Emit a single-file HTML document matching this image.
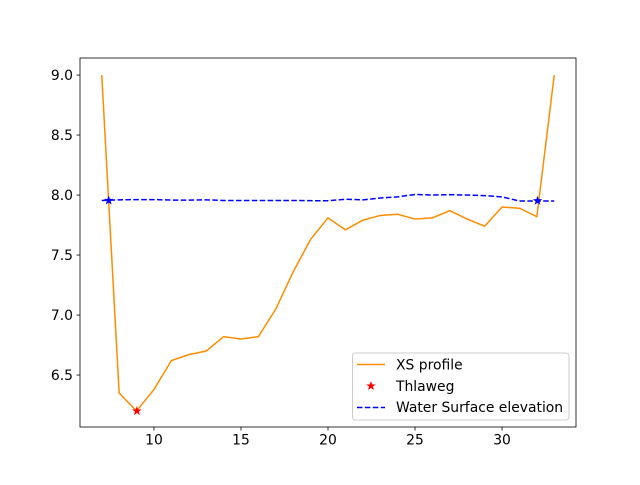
<!DOCTYPE html>
<html><head><meta charset="utf-8"><style>
body{margin:0;background:#fff;}
svg text{font-family:"DejaVu Sans","Liberation Sans",sans-serif;font-size:13.9px;fill:#000;}
</style></head><body>
<svg id="chart" width="640" height="480">
<rect x="0" y="0" width="640" height="480" fill="#fff"/>
<g id="plot"></g>
</svg>
<script>
const xsStations=[7,8,9,10,11,12,13,14,15,16,17,18,19,20,21,22,23,24,25,26,27,28,29,30,31,32,33];
const xsElev=[9.0,6.35,6.2,6.38,6.62,6.67,6.7,6.82,6.8,6.82,7.05,7.36,7.63,7.81,7.71,7.79,7.83,7.84,7.80,7.81,7.87,7.80,7.74,7.90,7.89,7.82,9.0];
const wsStations=[7,8,9,10,11,12,13,14,15,16,17,18,19,20,21,22,23,24,25,26,27,28,29,30,31,32,33];
const wsElev=[7.955,7.96,7.962,7.962,7.958,7.958,7.96,7.955,7.955,7.955,7.955,7.955,7.953,7.952,7.965,7.96,7.975,7.985,8.005,8.0,8.003,8.0,7.995,7.985,7.95,7.95,7.95];
const thalwegX=[9.02];
const thalwegY=[6.2];
const wsStarX=[7.4,32.04];
const wsStarY=[7.955,7.952];
const xTicks=[10,15,20,25,30];
const yTicks=[6.5,7.0,7.5,8.0,8.5,9.0];

const L=80,R=576,T=58,B=427;
const xmin=5.75,xmax=34.25,ymin=6.067,ymax=9.142;
const sx=v=>L+(v-xmin)/(xmax-xmin)*(R-L);
const sy=v=>B-(v-ymin)/(ymax-ymin)*(B-T);
const NS="http://www.w3.org/2000/svg";
const g=document.getElementById('plot');
function mk(tag,attrs,parent){const e=document.createElementNS(NS,tag);for(const k in attrs)e.setAttribute(k,attrs[k]);(parent||g).appendChild(e);return e;}
function star(cx,cy,r,color,name){
  let pts=[];for(let i=0;i<10;i++){const a=-Math.PI/2+i*Math.PI/5;const rr=i%2?r*0.4:r;pts.push((cx+rr*Math.cos(a)).toFixed(2)+','+(cy+rr*Math.sin(a)).toFixed(2));}
  const p=mk('polygon',{points:pts.join(' '),fill:color});
  
  
}
const xsPath=mk('polyline',{points:xsStations.map((s,i)=>sx(s)+','+sy(xsElev[i])).join(' '),fill:'none',stroke:'#ff8c00','stroke-width':1.5});


const wsPath=mk('polyline',{points:wsStations.map((s,i)=>sx(s)+','+sy(wsElev[i])).join(' '),fill:'none',stroke:'#0000ff','stroke-width':1.5,'stroke-dasharray':'5.5,2.4'});


thalwegX.forEach((x,i)=>star(sx(x),sy(thalwegY[i]),5,'#ff0000','thalweg-marker'));
wsStarX.forEach((x,i)=>star(sx(x),sy(wsStarY[i]),5,'#0000ff','ws-intersection-marker'));
const fr=mk('rect',{x:L,y:T,width:R-L,height:B-T,fill:'none',stroke:'#000','stroke-width':0.8});


xTicks.forEach(t=>{
  const x=sx(t);
  const tk=mk('line',{x1:x,x2:x,y1:B,y2:B+3.5,stroke:'#000','stroke-width':0.8});
  
  
  const tx=mk('text',{x:x,y:B+17.5,'text-anchor':'middle'});tx.textContent=t;
  
  
});
yTicks.forEach(t=>{
  const y=sy(t);
  const tk=mk('line',{x1:L-3.5,x2:L,y1:y,y2:y,stroke:'#000','stroke-width':0.8});
  
  
  const tx=mk('text',{x:L-7,y:y+5,'text-anchor':'end'});tx.textContent=t.toFixed(1);
  
  
});
const lg=mk('g',{});


mk('rect',{x:352.5,y:353,width:216.5,height:67,rx:3,fill:'#fff','fill-opacity':0.8,stroke:'#ccc','stroke-width':1},lg);
mk('line',{x1:357,x2:385,y1:364.5,y2:364.5,stroke:'#ff8c00','stroke-width':1.5},lg);
const t1=mk('text',{x:396,y:369.5},lg);t1.textContent='XS profile';


star(371,386,5,'#ff0000','legend-thalweg-marker');
const t2=mk('text',{x:396,y:391},lg);t2.textContent='Thlaweg';


mk('line',{x1:357,x2:385,y1:407.5,y2:407.5,stroke:'#0000ff','stroke-width':1.5,'stroke-dasharray':'5.5,2.4'},lg);
const t3=mk('text',{x:396,y:412},lg);t3.textContent='Water Surface elevation';


</script>
</body></html>
